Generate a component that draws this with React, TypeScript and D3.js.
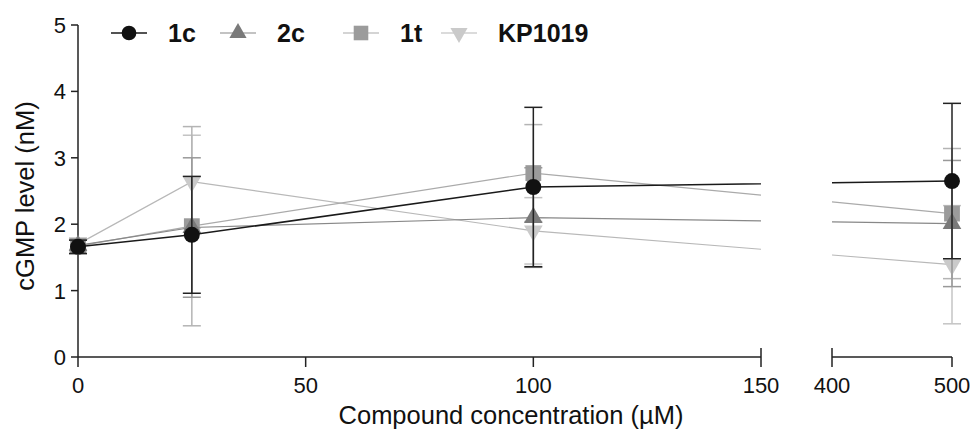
import * as d3 from 'd3';
import { useRef, useEffect } from 'react';

// concentrations (µM) and cGMP levels (nM), mean and SD
const conc = [0, 25, 100, 500];
const seriesNames = ['1c', '2c', '1t', 'KP1019'];
const mean1c = [1.66, 1.84, 2.56, 2.65];
const sd1c = [0.1, 0.88, 1.2, 1.17];
const mean2c = [1.68, 1.95, 2.1, 2.01];
const sd2c = [0.08, 1.05, 0.75, 0.95];
const mean1t = [1.67, 1.97, 2.77, 2.16];
const sd1t = [0.12, 1.5, 0.73, 0.98];
const meanKP = [1.7, 2.64, 1.9, 1.39];
const sdKP = [0.08, 0.7, 0.5, 0.89];

const yTicks = [0, 1, 2, 3, 4, 5];
const xTicksA = [0, 50, 100, 150];
const xTicksB = [400, 500];

const App = () => {
  const svgRef = useRef<SVGSVGElement>(null);

  useEffect(() => {
    const width = 973;
    const height = 434;
    const svg = d3.select(svgRef.current);
    svg.selectAll('*').remove();
    svg.attr('width', width).attr('height', height);

    const font = '"Liberation Sans", Arial, sans-serif';
    const axisColor = '#222';

    const xa = d3.scaleLinear().domain([0, 150]).range([78, 761]);
    const xb = d3.scaleLinear().domain([400, 500]).range([832, 952]);
    const x = (v: number) => (v <= 150 ? xa(v) : xb(v));
    const y = d3.scaleLinear().domain([0, 5]).range([357, 25]);

    const styles = [
      { mean: mean1c, sd: sd1c, marker: '#111', line: '#1a1a1a', err: '#222', symbol: d3.symbolCircle, size: 200, rot: 0, lw: 1.5 },
      { mean: mean2c, sd: sd2c, marker: '#7a7a7a', line: '#888', err: '#999', symbol: d3.symbolTriangle, size: 150, rot: 0, lw: 1.2 },
      { mean: mean1t, sd: sd1t, marker: '#9b9b9b', line: '#aaa', err: '#b4b4b4', symbol: d3.symbolSquare, size: 250, rot: 0, lw: 1.2 },
      { mean: meanKP, sd: sdKP, marker: '#cacaca', line: '#b8b8b8', err: '#c4c4c4', symbol: d3.symbolTriangle, size: 150, rot: 180, lw: 1.2 },
    ];

    // clip for broken axis
    const defs = svg.append('defs');
    const clip = defs.append('clipPath').attr('id', 'brk');
    clip.append('rect').attr('x', 0).attr('y', 0).attr('width', xa.range()[1]).attr('height', height);
    clip.append('rect').attr('x', xb.range()[0]).attr('y', 0).attr('width', width - xb.range()[0]).attr('height', height);

    // axes
    const ax = svg.append('g').attr('stroke', axisColor).attr('stroke-width', 1.5).attr('fill', 'none');
    ax.append('line').attr('x1', 78).attr('x2', 78).attr('y1', y(5)).attr('y2', y(0));
    yTicks.forEach(t => {
      ax.append('line').attr('x1', 71).attr('x2', 78).attr('y1', y(t)).attr('y2', y(t));
    });
    ax.append('line').attr('x1', xa.range()[0]).attr('x2', xa.range()[1]).attr('y1', y(0)).attr('y2', y(0));
    ax.append('line').attr('x1', xb.range()[0]).attr('x2', xb.range()[1]).attr('y1', y(0)).attr('y2', y(0));
    xTicksA.forEach(t => {
      const up = t === 150 ? 9 : 0;
      ax.append('line').attr('x1', xa(t)).attr('x2', xa(t)).attr('y1', y(0) - up).attr('y2', y(0) + 10);
    });
    xTicksB.forEach(t => {
      const up = t === 400 ? 9 : 0;
      ax.append('line').attr('x1', xb(t)).attr('x2', xb(t)).attr('y1', y(0) - up).attr('y2', y(0) + 10);
    });

    const lbl = svg.append('g').attr('font-family', font).attr('fill', '#111');
    yTicks.forEach(t => {
      lbl.append('text').attr('x', 66).attr('y', y(t)).attr('dy', '0.36em')
        .attr('text-anchor', 'end').attr('font-size', 22).text(t);
    });
    [...xTicksA.map(t => ({ t, p: xa(t) })), ...xTicksB.map(t => ({ t, p: xb(t) }))].forEach(d => {
      lbl.append('text').attr('x', d.p).attr('y', 393)
        .attr('text-anchor', 'middle').attr('font-size', 22).text(d.t);
    });
    lbl.append('text').attr('x', 511).attr('y', 424).attr('text-anchor', 'middle')
      .attr('font-size', 25.5).text('Compound concentration (µM)');
    lbl.append('text').attr('transform', 'translate(34,196) rotate(-90)').attr('text-anchor', 'middle')
      .attr('font-size', 25.5).text('cGMP level (nM)');

    // series, drawn back to front
    const line = d3.line<number>().x((_, i) => x(conc[i])).y(d => y(d));
    [3, 2, 1, 0].forEach(k => {
      const s = styles[k];
      const g = svg.append('g');
      g.append('path').attr('d', line(s.mean)).attr('fill', 'none')
        .attr('stroke', s.line).attr('stroke-width', s.lw).attr('clip-path', 'url(#brk)');
      s.mean.forEach((m, i) => {
        const cx = x(conc[i]);
        const lo = y(m - s.sd[i]);
        const hi = y(m + s.sd[i]);
        g.append('line').attr('x1', cx).attr('x2', cx).attr('y1', lo).attr('y2', hi)
          .attr('stroke', s.err).attr('stroke-width', 1.5);
        [lo, hi].forEach(py => {
          g.append('line').attr('x1', cx - 9).attr('x2', cx + 9).attr('y1', py).attr('y2', py)
            .attr('stroke', s.err).attr('stroke-width', 1.5);
        });
      });
      s.mean.forEach((m, i) => {
        g.append('path').attr('d', d3.symbol().type(s.symbol).size(s.size)())
          .attr('transform', `translate(${x(conc[i])},${y(m)}) rotate(${s.rot})`)
          .attr('fill', s.marker);
      });
    });

    // legend
    const legendX = [111, 220, 343, 441];
    const leg = svg.append('g');
    seriesNames.forEach((name, k) => {
      const s = styles[k];
      const lx = legendX[k];
      leg.append('line').attr('x1', lx).attr('x2', lx + 36).attr('y1', 33).attr('y2', 33)
        .attr('stroke', s.line).attr('stroke-width', s.lw);
      leg.append('path').attr('d', d3.symbol().type(s.symbol).size(s.size * 0.85)())
        .attr('transform', `translate(${lx + 18},33) rotate(${s.rot})`).attr('fill', s.marker);
      leg.append('text').attr('x', lx + 57).attr('y', 33).attr('dy', '0.36em')
        .attr('font-family', font).attr('font-weight', 'bold').attr('font-size', 25)
        .attr('fill', '#111').text(name);
    });
  }, []);

  return (
    <svg ref={svgRef} style={{ position: 'absolute', left: 0, top: 0, background: '#fff' }}></svg>
  );
};

export default App;
